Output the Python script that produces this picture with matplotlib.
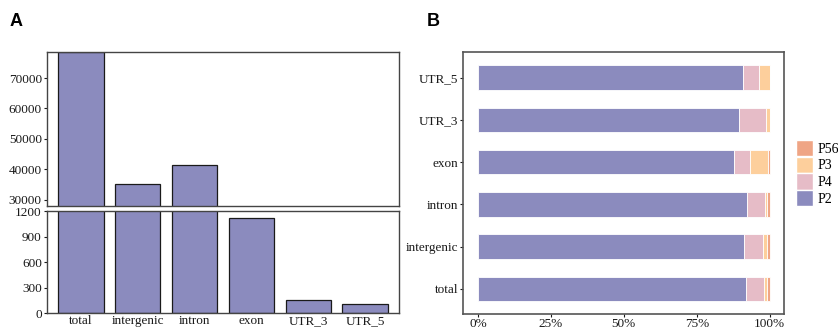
import numpy as np
import matplotlib.pyplot as plt
from matplotlib.patches import Patch

plt.rcParams['font.family'] = ['Liberation Serif', 'DejaVu Serif']

# region counts for panel A
categories = ['total', 'intergenic', 'intron', 'exon', 'UTR_3', 'UTR_5']
counts = [78500, 35200, 41500, 1114, 160, 106]

# proportions for panel B (bottom to top: total ... UTR_5)
p2 = [0.918, 0.913, 0.923, 0.879, 0.896, 0.909]
p4 = [0.063, 0.064, 0.062, 0.055, 0.093, 0.054]
p3 = [0.011, 0.013, 0.007, 0.059, 0.011, 0.037]
p56 = [0.008, 0.010, 0.008, 0.007, 0.000, 0.000]

bar_color = '#8B8BBE'
stack_colors = {'P2': '#8B8BBE', 'P4': '#E6BCC7', 'P3': '#FDCF9C', 'P56': '#EFA585'}

W, H = 838, 329
fig = plt.figure(figsize=(W / 100, H / 100), dpi=100)


def box(x0, y0, x1, y1):
    return [x0 / W, 1 - y1 / H, (x1 - x0) / W, (y1 - y0) / H]


# panel A, broken axis
ax_top = fig.add_axes(box(46.7, 52.3, 399.3, 205.7))
ax_bot = fig.add_axes(box(46.7, 211, 399.3, 313.3))
x = np.arange(len(categories))
for ax in (ax_top, ax_bot):
    ax.bar(x, counts, width=0.8, color=bar_color, edgecolor='#1a1a1a', linewidth=0.9)
    ax.set_xlim(-0.6, 5.6)
    for s in ax.spines.values():
        s.set_color('#444444')
        s.set_linewidth(1.0)
    ax.tick_params(axis='y', length=2.5, width=0.8, pad=1, labelsize=9.5, colors='#1a1a1a')

ax_top.set_ylim(28000, 78500)
ax_top.set_yticks([30000, 40000, 50000, 60000, 70000])
ax_top.set_xticks([])

ax_bot.set_ylim(0, 1200)
ax_bot.set_yticks([0, 300, 600, 900, 1200])
ax_bot.set_xticks(x)
ax_bot.set_xticklabels(categories)
ax_bot.tick_params(axis='x', length=0, pad=1, labelsize=9.5, colors='#1a1a1a')

# panel B, stacked proportions
ax_b = fig.add_axes(box(463.3, 52.3, 784.3, 314.3))
y = np.arange(len(categories))
left = np.zeros(len(categories))
for name, vals in [('P2', p2), ('P4', p4), ('P3', p3), ('P56', p56)]:
    ax_b.barh(y, vals, left=left, height=0.58, color=stack_colors[name],
              edgecolor='white', linewidth=0.6)
    left = left + np.array(vals)
ax_b.set_xlim(-0.05, 1.05)
ax_b.set_ylim(-0.6, 5.6)
ax_b.set_yticks(y)
ax_b.set_yticklabels(categories)
ax_b.set_xticks([0, 0.25, 0.5, 0.75, 1.0])
ax_b.set_xticklabels(['0%', '25%', '50%', '75%', '100%'])
ax_b.tick_params(length=2.5, width=0.8, pad=1, labelsize=9.5, colors='#1a1a1a')
ax_b.tick_params(axis='x', pad=0)
for s in ax_b.spines.values():
    s.set_color('#555555')
    s.set_linewidth(1.2)

handles = [Patch(facecolor=stack_colors[n], edgecolor='white') for n in ['P56', 'P3', 'P4', 'P2']]
fig.legend(handles, ['P56', 'P3', 'P4', 'P2'], loc='upper left',
           bbox_to_anchor=(796 / W, 1 - 140 / H), frameon=False, fontsize=10,
           handlelength=1.25, handleheight=1.4, handletextpad=0.3, labelspacing=0.05,
           borderaxespad=0, borderpad=0)

fig.text(10 / W, 1 - 21 / H, 'A', fontsize=13, fontweight='bold',
         family='Liberation Sans', va='center')
fig.text(427 / W, 1 - 21 / H, 'B', fontsize=13, fontweight='bold',
         family='Liberation Sans', va='center')

fig.savefig('out.png', dpi=100)
